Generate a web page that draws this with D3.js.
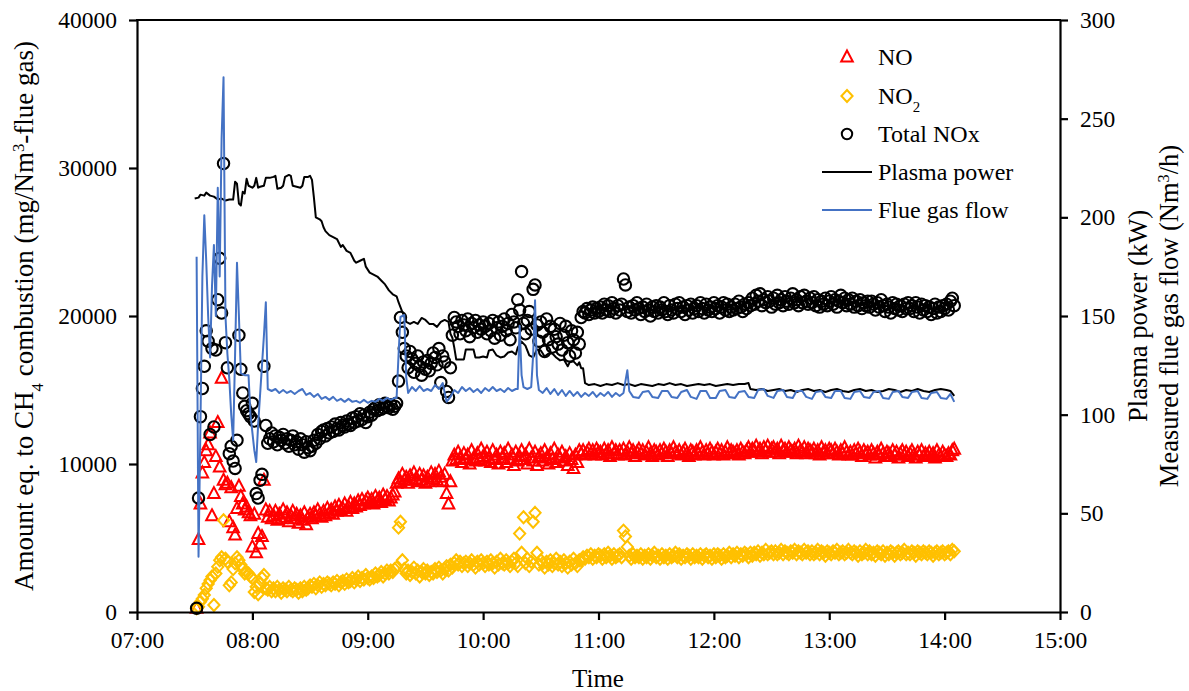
<!DOCTYPE html>
<html>
<head>
<meta charset="utf-8">
<script src="https://cdn.jsdelivr.net/npm/d3@7"></script>
<style>
  body { margin: 0; background: #fff; }
  svg text { font-family: "Liberation Serif", "Times New Roman", serif; fill: #000; }
</style>
</head>
<body>
<svg id="chart" width="1189" height="691"></svg>
<script>
// ---------------- data ----------------
// Analyser log: one sample per minute starting at scanStart (mg/Nm3 flue gas, CH4-combustion equivalent)
const scanStart = "07:31";

const noValues = [
  250, 4900, 7300, 9400, 10100, 10900, 11300, 12100, 6500, 8000,
  10500, 12800, 9800, 15800, 8900, 8600, 8700, 6100, 8400, 5700,
  5200, 7000, 8500, 7800, 7300, 6900, 7100, 6700, 6500, 4400,
  6600, 4000, 5300, 4600, 5100, 8900, 6900, 6400, 6800, 6300,
  6500, 6800, 6200, 6600, 6300, 6900, 6400, 6700, 6100, 6500,
  6800, 6300, 6600, 6000, 6500, 6200, 6700, 5900, 6400, 6600,
  6300, 6700, 6500, 6900, 6600, 6400, 6800, 6500, 7000, 6700,
  6900, 6600, 7100, 6800, 7200, 6900, 7000, 7300, 6800, 7100,
  7400, 7000, 7300, 7100, 7500, 7200, 7600, 7300, 7500, 7700,
  7400, 7600, 7300, 7800, 7500, 7700, 7400, 7900, 7600, 7800,
  7500, 7700, 7900, 8100, 8700, 9000, 8800, 9300, 8900, 9100,
  8700, 9200, 8900, 9400, 9000, 8800, 9300, 8900, 9200, 8700,
  9100, 8800, 9400, 9000, 9300, 8900, 9500, 9100, 8800, 9300,
  8000, 7300, 8800, 10200, 10600, 10300, 10800, 10400, 10100, 10700,
  10300, 10600, 10000, 10900, 10400, 10200, 10700, 10300, 11000, 10500,
  10200, 10800, 10400, 10100, 10900, 10300, 10600, 10000, 10800, 10400,
  10700, 10100, 11000, 10300, 10600, 9900, 10800, 10200, 10500, 10900,
  10300, 10600, 10000, 11000, 10400, 10200, 10800, 9900, 10500, 10700,
  10200, 10900, 10400, 10000, 10700, 10300, 11000, 10100, 10600, 10400,
  10800, 10200, 10500, 9900, 10700, 10300, 9700, 10600, 10100, 10900,
  10700, 10900, 10600, 10800, 11000, 10700, 10900, 10600, 11000, 10800,
  10800, 10600, 11000, 10700, 10900, 10500, 11100, 10700, 10900, 10600,
  10900, 10700, 11000, 10600, 10800, 11100, 10700, 10900, 10500, 10800,
  11000, 10700, 10900, 10600, 10800, 11100, 10700, 10500, 10900, 10800,
  10600, 10900, 10700, 11000, 10800, 10500, 10900, 10700, 11100, 10800,
  10700, 10900, 10600, 10800, 11000, 10700, 10500, 10900, 10800, 10600,
  10900, 10700, 11100, 10800, 10600, 10900, 10700, 11000, 10800, 10600,
  10800, 11000, 10700, 10900, 10600, 10800, 11100, 10700, 10900, 10800,
  10700, 10900, 10600, 11000, 10800, 10700, 10900, 11100, 10800, 11000,
  10900, 11200, 10800, 11000, 10700, 11100, 10900, 11200, 10800, 11000,
  11100, 10800, 11000, 10700, 11200, 10900, 11000, 10800, 11100, 10900,
  10800, 11000, 10700, 11200, 10900, 10800, 11100, 10700, 11000, 10900,
  10800, 11000, 10700, 10900, 10600, 11100, 10800, 10900, 10700, 11000,
  10900, 10700, 11000, 10800, 10600, 10900, 10700, 11100, 10800, 10600,
  10800, 10600, 10900, 10700, 11000, 10800, 10500, 10900, 10700, 10800,
  10600, 10900, 10700, 10400, 10800, 10600, 11000, 10700, 10500, 10800,
  10700, 10500, 10900, 10600, 10800, 10400, 10700, 10900, 10600, 10800,
  10500, 10700, 10900, 10600, 10400, 10800, 10600, 10900, 10500, 10700,
  10600, 10800, 10500, 10700, 10400, 10900, 10600, 10500, 10800, 10600,
  10500, 10700, 10600, 10900, 11000
];

const no2Values = [
  250, 350, 700, 900, 1150, 1600, 1900, 2150, 2400, 470,
  2600, 3050, 3500, 3700, 6200, 3600, 3400, 1800, 2000, 2900,
  3300, 3700, 3500, 3200, 2900, 2600, 2700, 2600, 2400, 2300,
  1350, 1700, 1200, 1900, 2300, 2500, 1600, 1500, 1700, 1400,
  1600, 1400, 1700, 1500, 1300, 1600, 1500, 1400, 1700, 1500,
  1400, 1600, 1500, 1300, 1600, 1400, 1700, 1500, 1600, 1800,
  1700, 1900, 1600, 1800, 2000, 1700, 1900, 1800, 2000, 1900,
  1800, 2000, 1900, 2100, 1800, 2000, 2100, 1900, 2200, 2000,
  2100, 2300, 2000, 2200, 2400, 2100, 2300, 2200, 2500, 2300,
  2200, 2400, 2300, 2600, 2400, 2500, 2700, 2400, 2600, 2800,
  2600, 2800, 2700, 2900, 3000, 5700, 6100, 3500, 2900, 2600,
  2800, 2500, 2700, 3000, 2600, 2800, 2400, 2700, 2900, 2600,
  2800, 2500, 2700, 2600, 2900, 2700, 3000, 2800, 2600, 2900,
  3100, 2800, 3200, 3000, 3300, 3500, 3200, 3400, 3100, 3300,
  3400, 3100, 3300, 3500, 3200, 3000, 3400, 3200, 3500, 3300,
  3100, 3400, 3200, 3500, 3300, 3000, 3400, 3200, 3600, 3300,
  3200, 3500, 3300, 3100, 3400, 3600, 3300, 3100, 5300, 4000,
  6400, 3300, 3600, 3100, 3400, 6100, 6700, 4000, 3200, 3500,
  3300, 3000, 3400, 3200, 3500, 3100, 3300, 3600, 3200, 3400,
  3100, 3500, 3300, 3000, 3400, 3200, 3600, 3300, 3100, 3500,
  3500, 3700, 3600, 3800, 3700, 3900, 3600, 3800, 3700, 3900,
  3800, 3600, 3900, 3700, 4000, 3800, 3600, 3900, 3700, 3800,
  3900, 3700, 5500, 5100, 4400, 3800, 3600, 3900, 3700, 3800,
  3700, 3900, 3600, 3800, 3700, 3900, 3600, 3800, 4000, 3700,
  3800, 3600, 3900, 3700, 3800, 3600, 3900, 3700, 3800, 4000,
  3700, 3900, 3600, 3800, 3700, 3900, 3800, 3600, 3900, 3700,
  3800, 3700, 3900, 3600, 3800, 3900, 3700, 3800, 3600, 3900,
  3700, 3900, 3800, 3600, 3900, 3700, 3800, 4000, 3700, 3900,
  3800, 4000, 3700, 3900, 3800, 4000, 3900, 3700, 4000, 3800,
  4000, 3900, 4100, 3800, 4000, 3900, 4200, 3900, 4000, 4100,
  3900, 4100, 3900, 4000, 4200, 3900, 4100, 4000, 3900, 4100,
  4000, 4200, 3900, 4100, 4000, 3900, 4200, 4000, 4100, 3900,
  4100, 3900, 4000, 4200, 3900, 4100, 4000, 3800, 4100, 4000,
  3900, 4100, 4000, 4200, 3900, 4000, 4100, 3900, 4000, 4200,
  4000, 3900, 4100, 4000, 3800, 4100, 3900, 4000, 4200, 3900,
  4100, 3900, 4000, 3800, 4100, 4000, 3900, 4100, 3800, 4000,
  3900, 4100, 4000, 3800, 4000, 4100, 3900, 4000, 4200, 3900,
  4000, 3900, 4100, 4000, 3800, 4100, 4000, 3900, 4100, 4000,
  3900, 4100, 4000, 3800, 4000, 4100, 3900, 4000, 4100, 3900,
  4000, 4100, 3900, 4200, 4100
];

const noxValues = [
  250, 7700, 13200, 15100, 16600, 19000, 18300, 12000, 17800, 12500,
  17700, 21100, 23900, 20200, 30300, 18200, 16500, 10700, 11200, 10200,
  9700, 11600, 18700, 16400, 14800, 13900, 13600, 13400, 13200, 14100,
  12900, 8000, 7700, 8900, 9300, 16600, 12600, 11400, 11700, 12100,
  11500, 11900, 11300, 11800, 11600, 12000, 11400, 11700, 11200, 11600,
  11900, 11300, 11500, 11000, 11700, 11300, 10800, 11500, 11100, 10900,
  11200, 11600, 11400, 12000, 11700, 12200, 12300, 11900, 12400, 12100,
  12500, 12200, 12700, 12400, 12300, 12800, 12600, 12500, 12900, 12700,
  12600, 13100, 12800, 13200, 12900, 13400, 13000, 13300, 12800, 13200,
  13500, 13300, 13700, 13800, 13600, 14000, 13700, 13800, 14100, 13900,
  13800, 14000, 13700, 13900, 14100, 15600, 19900, 18900, 17800, 17300,
  16500, 17600, 17100, 16200, 16800, 17300, 16600, 16000, 16900, 16400,
  17000, 16300, 16800, 17500, 17200, 16700, 17800, 15500, 17300, 16900,
  14900, 14500, 16500, 18700, 19900, 19600, 19300, 18800, 19700, 19400,
  19000, 19800, 18600, 19500, 19200, 19700, 18900, 19400, 19100, 19600,
  19300, 18800, 19500, 19000, 19700, 18500, 19200, 19600, 18700, 19300,
  19800, 19000, 19500, 18400, 20100, 19600, 19200, 21100, 20400, 23000,
  19500, 18800, 19700, 20300, 19100, 21800, 22100, 19400, 18300, 19600,
  18900, 17600, 19800, 18400, 19300, 17900, 19100, 18600, 18100, 19500,
  17700, 18700, 19300, 18200, 17300, 19000, 18400, 17500, 18900, 18100,
  19900, 20300, 20200, 20500, 20100, 20400, 20600, 20200, 20500, 20300,
  20600, 20200, 20800, 20400, 20700, 20300, 20900, 20500, 20200, 20700,
  20400, 20800, 22500, 22100, 20300, 20600, 20200, 20700, 20400, 20900,
  20500, 20100, 20600, 20300, 20800, 20400, 20000, 20600, 20300, 20700,
  20200, 20600, 20400, 20900, 20300, 20100, 20700, 20400, 20200, 20800,
  20500, 20900, 20300, 20600, 20100, 20700, 20400, 20800, 20200, 20500,
  20700, 20300, 20900, 20500, 20200, 20800, 20400, 20600, 20300, 20900,
  20500, 20700, 20200, 20600, 20900, 20400, 20800, 20300, 20600, 20400,
  20800, 20500, 21000, 20600, 20300, 20800, 20500, 20900, 20700, 21200,
  20800, 21400, 21000, 21500, 20700, 21100, 20900, 21300, 21000, 20600,
  21200, 20800, 21400, 20900, 21100, 20700, 21300, 21000, 20800, 21200,
  21500, 20900, 21100, 20700, 21300, 20900, 21400, 21000, 20800, 21200,
  20900, 21300, 20700, 21100, 20600, 21000, 20800, 21200, 20700, 21000,
  21300, 20800, 21100, 20600, 21000, 21400, 20900, 21200, 20700, 21100,
  20800, 21200, 20600, 21000, 20700, 21100, 20500, 20900, 20700, 21000,
  20600, 21000, 20800, 20400, 20900, 20600, 21100, 20700, 20300, 20800,
  20600, 20200, 20900, 20500, 20800, 20400, 20700, 20300, 20800, 20500,
  20900, 20500, 20700, 20300, 20900, 20600, 20200, 20800, 20400, 20700,
  20300, 20600, 20100, 20500, 20800, 20200, 20600, 20300, 20700, 20500,
  20800, 20400, 21000, 21200, 20700
];

// Plasma power, kW (secondary axis)
const plasmaPower = [
  ["07:30",209.5],["07:32",210],["07:33",211.5],["07:35",211],["07:36",212.5],["07:38",211],
  ["07:40",210.5],["07:42",209],["07:44",209.5],["07:46",208.5],["07:48",209],["07:50",209],
  ["07:51",218],["07:52",217],["07:53",207],["07:54",206],["07:55",213],["07:56",212],
  ["07:57",219.5],["07:58",216],["08:00",215],["08:01",216],["08:02",220],["08:03",215],
  ["08:04",215.5],["08:06",216],["08:07",220],["08:09",220],["08:11",220.5],["08:12",221],
  ["08:13",214.5],["08:15",215],["08:16",216],["08:17",220.5],["08:19",221.5],["08:20",221],
  ["08:21",216],["08:23",215.5],["08:25",215],["08:26",216],["08:27",220.5],["08:29",220.5],
  ["08:30",221],["08:31",219],["08:32",210],["08:33",200],["08:35",199],["08:36",198],
  ["08:37",195],["08:38",193],["08:40",191],["08:42",190],["08:44",189],["08:46",185],
  ["08:47",186],["08:49",183],["08:51",182],["08:53",178],["08:54",177],["08:56",178],
  ["08:58",179],["08:59",175],["09:01",172],["09:03",171],["09:05",170],["09:07",168],
  ["09:09",166],["09:11",163],["09:13",161],["09:15",160],["09:16",157],["09:18",152],
  ["09:19",150],["09:20",147],["09:22",146],["09:24",147],["09:26",146],["09:28",149],
  ["09:30",148],["09:32",146],["09:34",146],["09:36",144.5],["09:38",147],["09:40",148],
  ["09:42",147],["09:43",141],["09:44",139],["09:45",134],["09:46",128],["09:48",128],
  ["09:50",128],["09:51",133],["09:53",133],["09:55",133],["09:56",129],["09:58",129],
  ["10:00",129.5],["10:02",129],["10:03",132.5],["10:05",133],["10:07",130],["10:09",129],
  ["10:11",129.5],["10:13",131.5],["10:15",132],["10:17",130.5],["10:18",134],["10:20",137],
  ["10:22",135],["10:24",130],["10:26",129],["10:28",133],["10:30",132.5],["10:32",129.5],
  ["10:34",131],["10:36",131],["10:38",129],["10:40",127.5],["10:42",128],["10:44",124.5],
  ["10:45",126.5],["10:47",127],["10:49",125],["10:50",126.5],["10:51",123.5],["10:52",123.5],
  ["10:53",116],["10:55",115],["10:58",115.5],["11:01",114.5],["11:04",115.5],["11:07",115],
  ["11:10",116],["11:13",115],["11:16",115.5],["11:19",114.5],["11:22",115.5],["11:25",115],
  ["11:28",114.5],["11:31",115.5],["11:34",115],["11:37",116],["11:40",115],["11:43",115.5],
  ["11:46",114.5],["11:49",115],["11:52",115.5],["11:55",115],["11:58",115.5],["12:01",114.5],
  ["12:04",115],["12:07",115.5],["12:10",115],["12:13",115.5],["12:16",115.5],["12:18",116],
  ["12:19",113],["12:22",112.5],["12:25",113],["12:28",112],["12:31",112.5],["12:34",113],
  ["12:37",112],["12:40",112.5],["12:43",111.5],["12:46",112.5],["12:49",113],["12:52",112],
  ["12:55",112.5],["12:58",111.5],["13:01",112.5],["13:04",113],["13:07",112],["13:10",111.5],
  ["13:13",112.5],["13:16",113],["13:19",112],["13:22",112.5],["13:25",111.5],["13:28",112],
  ["13:31",113],["13:34",112.5],["13:37",111.5],["13:40",112.5],["13:43",112],["13:46",113],
  ["13:49",112],["13:52",111.5],["13:55",112.5],["13:58",113],["14:01",112.5],["14:03",112],
  ["14:05",109.5]
];

// Measured flue gas flow, Nm3/h (secondary axis)
const flueGasFlow = [
  ["07:31",180],["07:32",28],["07:33",95],["07:34",170],["07:35",201],["07:36",178],
  ["07:37",150],["07:38",129],["07:39",165],["07:40",186],["07:41",150],["07:42",215],
  ["07:43",170],["07:44",240],["07:45",271],["07:46",150],["07:47",131],["07:48",118],
  ["07:49",100],["07:50",87],["07:51",130],["07:52",177],["07:53",150],["07:54",121],
  ["07:56",120],["07:58",120],["07:59",100],["08:01",82],["08:02",76],["08:03",95],
  ["08:05",125],["08:06",140],["08:07",157],["08:08",113],["08:10",112],["08:12",113],
  ["08:14",111],["08:16",112.5],["08:18",111],["08:20",112],["08:22",110.5],["08:24",112],
  ["08:26",113],["08:28",110],["08:30",111],["08:32",109],["08:34",110.5],["08:36",108],
  ["08:38",109],["08:40",107.5],["08:42",109],["08:44",107],["08:46",108],["08:48",106.5],
  ["08:50",108],["08:52",106.5],["08:54",107],["08:56",106],["08:58",107.5],["09:00",106],
  ["09:02",107],["09:04",106.5],["09:06",108],["09:08",107],["09:10",108.5],["09:12",107.5],
  ["09:14",108.5],["09:15",108.5],["09:16",130],["09:17",149.5],["09:19",150.5],["09:20",119],
  ["09:21",111],["09:23",114],["09:25",112],["09:27",114.5],["09:29",112],["09:31",113],
  ["09:33",112],["09:35",115],["09:37",113],["09:39",116],["09:41",106.5],["09:43",109],
  ["09:45",112.5],["09:47",111],["09:49",114],["09:51",112],["09:53",113.5],["09:55",111.5],
  ["09:57",113],["09:59",111],["10:01",113.5],["10:03",112],["10:05",114],["10:07",112],
  ["10:09",113],["10:11",111.5],["10:13",113.5],["10:15",112],["10:17",113],["10:18",113],
  ["10:19",145],["10:20",120],["10:21",114],["10:23",113],["10:25",114],["10:26",130],
  ["10:27",158],["10:28",120],["10:29",112.5],["10:31",111],["10:33",113.5],["10:35",110.5],
  ["10:37",113],["10:39",110],["10:41",112.5],["10:43",109.5],["10:45",112],["10:47",109.5],
  ["10:49",111.5],["10:51",109],["10:53",111],["10:55",109.5],["10:57",111.5],["10:59",109],
  ["11:01",111],["11:03",109.5],["11:05",111.5],["11:07",109],["11:09",111],["11:11",109.5],
  ["11:13",111],["11:14",117],["11:15",122.5],["11:16",112],["11:18",109],["11:21",108.5],
  ["11:23",111.5],["11:26",112],["11:28",109],["11:31",108.5],["11:33",112],["11:36",112],
  ["11:38",109],["11:41",108.5],["11:43",111.5],["11:46",112.5],["11:48",109],["11:51",108],
  ["11:53",112],["11:56",112],["11:58",108.5],["12:01",108.5],["12:03",112],["12:06",112.5],
  ["12:08",109],["12:11",108.5],["12:13",111.5],["12:16",112],["12:18",109],["12:21",108.5],
  ["12:23",112.5],["12:26",113],["12:28",109.5],["12:31",108.5],["12:33",112],["12:36",112.5],
  ["12:38",109],["12:41",108.5],["12:43",112],["12:46",112],["12:48",109],["12:51",108],
  ["12:53",111.5],["12:56",112],["12:58",109],["13:01",108.5],["13:03",112],["13:06",112],
  ["13:08",108.5],["13:11",108],["13:13",111.5],["13:16",112],["13:18",109],["13:21",108.5],
  ["13:23",111.5],["13:26",112],["13:28",108.5],["13:31",108],["13:33",111.5],["13:36",112],
  ["13:38",109],["13:41",108.5],["13:43",111.5],["13:46",112],["13:48",108.5],["13:51",108],
  ["13:53",111],["13:56",111.5],["13:58",108.5],["14:01",108],["14:03",110.5],["14:05",106.5]
];

const timeTicks = ["07:00","08:00","09:00","10:00","11:00","12:00","13:00","14:00","15:00"];
const leftTicks = [0, 10000, 20000, 30000, 40000];
const rightTicks = [0, 50, 100, 150, 200, 250, 300];

// ---------------- layout ----------------
const svg = d3.select("#chart");
const plot = { left: 137, right: 1060, top: 20, bottom: 612 };
const TICK_FONT = 23.5;
const LEGEND_FONT = 24;
const parseTime = d3.timeParse("%H:%M");

const x = d3.scaleTime()
  .domain([parseTime(timeTicks[0]), parseTime(timeTicks[timeTicks.length - 1])])
  .range([plot.left, plot.right]);
const yLeft = d3.scaleLinear().domain([0, 40000]).range([plot.bottom, plot.top]);
const yRight = d3.scaleLinear().domain([0, 300]).range([plot.bottom, plot.top]);

const t0 = parseTime(scanStart);
const sampleTime = i => d3.timeMinute.offset(t0, i);

// ---------------- marker shapes ----------------
const trianglePath = "M0,-6.5L5.8,4.5L-5.8,4.5Z";
const diamondPath = "M0,-6L5.6,0L0,6L-5.6,0Z";

const gData = svg.append("g");

// NO triangles
gData.append("g")
  .selectAll("path")
  .data(noValues)
  .join("path")
  .attr("d", trianglePath)
  .attr("transform", (d, i) => `translate(${x(sampleTime(i))},${yLeft(d)})`)
  .attr("fill", "none")
  .attr("stroke", "#FF0000")
  .attr("stroke-width", 2);

// NO2 diamonds
gData.append("g")
  .selectAll("path")
  .data(no2Values)
  .join("path")
  .attr("d", diamondPath)
  .attr("transform", (d, i) => `translate(${x(sampleTime(i))},${yLeft(d)})`)
  .attr("fill", "none")
  .attr("stroke", "#FFC000")
  .attr("stroke-width", 2);

// Total NOx circles
gData.append("g")
  .selectAll("circle")
  .data(noxValues)
  .join("circle")
  .attr("cx", (d, i) => x(sampleTime(i)))
  .attr("cy", d => yLeft(d))
  .attr("r", 5.7)
  .attr("fill", "none")
  .attr("stroke", "#000")
  .attr("stroke-width", 2.1);

// secondary-axis lines
const lineRight = d3.line()
  .x(d => x(parseTime(d[0])))
  .y(d => yRight(d[1]));

gData.append("path")
  .datum(plasmaPower)
  .attr("d", lineRight)
  .attr("fill", "none")
  .attr("stroke", "#000")
  .attr("stroke-width", 2)
  .attr("stroke-linejoin", "round");

gData.append("path")
  .datum(flueGasFlow)
  .attr("d", lineRight)
  .attr("fill", "none")
  .attr("stroke", "#4472C4")
  .attr("stroke-width", 2)
  .attr("stroke-linejoin", "round");

// ---------------- axes ----------------
function styleAxis(g) {
  g.attr("font-family", null);
  g.select(".domain").attr("stroke", "#000").attr("stroke-width", 2.2);
  g.selectAll(".tick line").attr("stroke", "#000").attr("stroke-width", 2.2);
  g.selectAll(".tick text")
    .attr("font-size", TICK_FONT)
    .attr("fill", "#000");
}

svg.append("g")
  .attr("transform", `translate(0,${plot.bottom})`)
  .call(d3.axisBottom(x)
    .tickValues(timeTicks.map(parseTime))
    .tickFormat(d3.timeFormat("%H:%M"))
    .tickSize(8).tickSizeOuter(0).tickPadding(12))
  .call(styleAxis)
  .call(g => g.selectAll(".tick text").attr("dy", null).attr("y", 36));

svg.append("g")
  .attr("transform", `translate(${plot.left},0)`)
  .call(d3.axisLeft(yLeft)
    .tickValues(leftTicks)
    .tickFormat(d3.format("d"))
    .tickSize(8).tickSizeOuter(0).tickPadding(12))
  .call(styleAxis);

svg.append("g")
  .attr("transform", `translate(${plot.right},0)`)
  .call(d3.axisRight(yRight)
    .tickValues(rightTicks)
    .tickFormat(d3.format("d"))
    .tickSize(8).tickSizeOuter(0).tickPadding(12))
  .call(styleAxis);

// top frame line
svg.append("line")
  .attr("x1", plot.left - 1).attr("x2", plot.right + 1)
  .attr("y1", plot.top).attr("y2", plot.top)
  .attr("stroke", "#000").attr("stroke-width", 2.2);

// ---------------- axis titles ----------------
svg.append("text")
  .attr("x", 598)
  .attr("y", 687)
  .attr("text-anchor", "middle")
  .attr("font-size", 25)
  .text("Time");

function richText(sel, parts, size) {
  parts.forEach(p => {
    const t = sel.append("tspan").text(p.t);
    if (p.sub) t.attr("font-size", size * 0.62).attr("baseline-shift", "sub");
    if (p.sup) t.attr("font-size", size * 0.62).attr("baseline-shift", "super");
  });
}

const midY = (plot.top + plot.bottom) / 2;

const leftTitle = svg.append("text")
  .attr("transform", `translate(33,${midY}) rotate(-90)`)
  .attr("text-anchor", "middle")
  .attr("font-size", 27);
richText(leftTitle, [
  { t: "Amount eq. to CH" }, { t: "4", sub: true },
  { t: " combustion (mg/Nm" }, { t: "3", sup: true }, { t: "-flue gas)" }
], 27);

const rightTitle1 = svg.append("text")
  .attr("transform", `translate(1147,${midY}) rotate(-90)`)
  .attr("text-anchor", "middle")
  .attr("font-size", 26.5);
richText(rightTitle1, [{ t: "Plasma power (kW)" }], 26.5);

const rightTitle2 = svg.append("text")
  .attr("transform", `translate(1178,${midY}) rotate(-90)`)
  .attr("text-anchor", "middle")
  .attr("font-size", 26.5);
richText(rightTitle2, [
  { t: "Measured flue gas flow (Nm" }, { t: "3", sup: true }, { t: "/h)" }
], 26.5);

// ---------------- legend ----------------
const legendItems = [
  { label: [{ t: "NO" }], kind: "tri" },
  { label: [{ t: "NO" }, { t: "2", sub: true }], kind: "dia" },
  { label: [{ t: "Total NOx" }], kind: "circ" },
  { label: [{ t: "Plasma power" }], kind: "lineK" },
  { label: [{ t: "Flue gas flow" }], kind: "lineB" }
];
const legendY = [57, 96, 134, 172, 210];
const legend = svg.append("g");
legendItems.forEach((item, i) => {
  const g = legend.append("g").attr("transform", `translate(847,${legendY[i]})`);
  if (item.kind === "tri") {
    g.append("path").attr("d", trianglePath).attr("fill", "none")
      .attr("stroke", "#FF0000").attr("stroke-width", 2);
  } else if (item.kind === "dia") {
    g.append("path").attr("d", diamondPath).attr("fill", "none")
      .attr("stroke", "#FFC000").attr("stroke-width", 2);
  } else if (item.kind === "circ") {
    g.append("circle").attr("r", 5.2).attr("fill", "none")
      .attr("stroke", "#000").attr("stroke-width", 2);
  } else {
    g.append("line").attr("x1", -25).attr("x2", 25)
      .attr("stroke", item.kind === "lineK" ? "#000" : "#4472C4")
      .attr("stroke-width", 2);
  }
  const txt = g.append("text")
    .attr("x", 31)
    .attr("y", 0)
    .attr("dy", "0.35em")
    .attr("font-size", LEGEND_FONT);
  richText(txt, item.label, LEGEND_FONT);
});
</script>
</body>
</html>
